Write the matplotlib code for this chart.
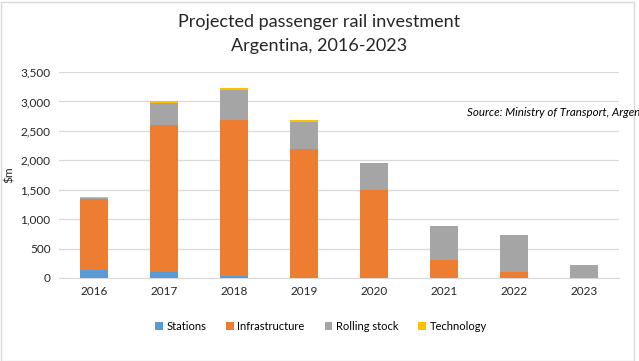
import matplotlib.pyplot as plt
from matplotlib.patches import Rectangle
import numpy as np

years = ["2016", "2017", "2018", "2019", "2020", "2021", "2022", "2023"]
stations = [140, 105, 40, 0, 0, 0, 0, 0]
infrastructure = [1200, 2500, 2640, 2200, 1500, 305, 110, 0]
rolling_stock = [12, 360, 520, 455, 460, 575, 615, 225]
technology = [20, 50, 33, 34, 0, 0, 0, 0]

series = [
    ("Stations", stations, "#5B9BD5"),
    ("Infrastructure", infrastructure, "#ED7D31"),
    ("Rolling stock", rolling_stock, "#A5A5A5"),
    ("Technology", technology, "#FFC000"),
]

plt.rcParams["font.family"] = ["Lato", "DejaVu Sans"]

fig = plt.figure(figsize=(6.39, 3.61), dpi=100)
ax = fig.add_axes([59 / 639, 1 - 278 / 361, 560 / 639, 206 / 361])

x = np.arange(len(years))
bottom = np.zeros(len(years))
for name, vals, color in series:
    ax.bar(x, vals, width=0.4, bottom=bottom, color=color, label=name, zorder=3)
    bottom += np.array(vals)

ax.set_xlim(-0.5, len(years) - 0.5)
ax.set_ylim(0, 3500)
ax.set_yticks(range(0, 3501, 500))
ax.yaxis.set_major_formatter(plt.FuncFormatter(lambda v, p: f"{int(v):,}"))
ax.set_xticks(x)
ax.set_xticklabels(years)
ax.tick_params(length=0, labelsize=8.5, colors="#262626", pad=6)
ax.grid(axis="y", color="#D9D9D9", linewidth=0.9, zorder=0)
for s in ["top", "right", "left"]:
    ax.spines[s].set_visible(False)
ax.spines["bottom"].set_color("#D9D9D9")
ax.set_ylabel("$m", fontsize=8.5, color="#262626")
ax.yaxis.set_label_coords(-44 / 560, 0.50)

fig.text(0.5, 1 - 22 / 361, "Projected passenger rail investment", ha="center", va="center",
         fontsize=13, color="#262626")
fig.text(0.5, 1 - 46 / 361, "Argentina, 2016-2023", ha="center", va="center",
         fontsize=13, color="#262626")
fig.text(467 / 639, 1 - 113 / 361, "Source: Ministry of Transport, Argentina", ha="left",
         va="center", fontsize=8.3, style="italic", color="#000000")

ax.legend(loc="center", bbox_to_anchor=((321 - 59) / 560, (278 - 326) / 206), ncol=4, frameon=False,
          fontsize=8, handlelength=0.7, handleheight=0.7, handletextpad=0.3, columnspacing=1.8)

fig.patches.append(Rectangle((0.5 / 639, 0.5 / 361), 633 / 639, 359 / 361, transform=fig.transFigure,
                             fill=False, edgecolor="#D9D9D9", linewidth=1))

fig.savefig("out.png", dpi=100)
